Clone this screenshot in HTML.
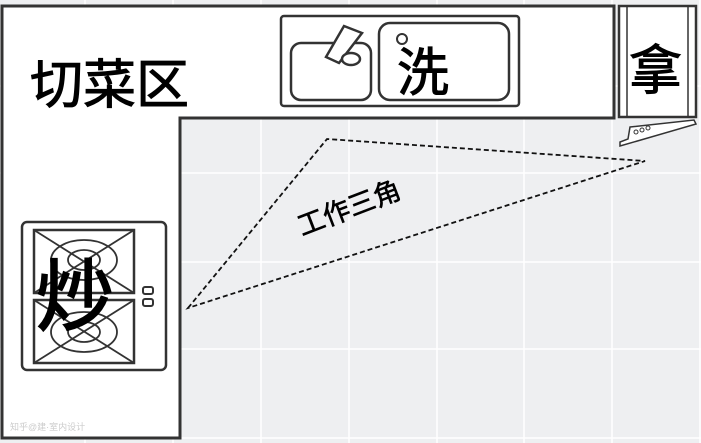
<!DOCTYPE html>
<html><head><meta charset="utf-8"><style>
html,body{margin:0;padding:0;width:701px;height:443px;overflow:hidden;background:#eeeff1}
svg{display:block}
text{font-family:"Liberation Sans","Noto Sans CJK SC",sans-serif}
</style></head><body>
<svg width="701" height="443" viewBox="0 0 701 443" xmlns="http://www.w3.org/2000/svg">
<rect width="701" height="443" fill="#eeeff1"/>
<g stroke="#fff" stroke-width="1.5">
<line x1="85" y1="0" x2="85" y2="443"/><line x1="173" y1="0" x2="173" y2="443"/>
<line x1="261" y1="0" x2="261" y2="443"/><line x1="349" y1="0" x2="349" y2="443"/>
<line x1="437" y1="0" x2="437" y2="443"/><line x1="524" y1="0" x2="524" y2="443"/>
<line x1="612" y1="0" x2="612" y2="443"/><line x1="700" y1="0" x2="700" y2="443"/>
<line x1="0" y1="86" x2="701" y2="86"/><line x1="0" y1="173" x2="701" y2="173"/>
<line x1="0" y1="262" x2="701" y2="262"/><line x1="0" y1="349" x2="701" y2="349"/>
<line x1="0" y1="438" x2="701" y2="438"/>
</g>
<path d="M2,6 H614 V118 H180 V438 H2 Z" fill="#fff" stroke="#333" stroke-width="3"/>
<text x="30" y="103" font-size="53" fill="#000" stroke="#000" stroke-width="1">切菜区</text>
<!-- sink -->
<rect x="281" y="16" width="238" height="90" rx="3" fill="#fff" stroke="#333" stroke-width="2.5"/>
<rect x="291" y="43" width="80" height="57" rx="10" fill="#fff" stroke="#333" stroke-width="2.5"/>
<polygon points="326,57 344,26 362,33 339,63" fill="#fff" stroke="#333" stroke-width="2.5"/>
<ellipse cx="351" cy="59" rx="9" ry="6" fill="#fff" stroke="#333" stroke-width="2.5"/>
<rect x="379" y="23" width="130" height="77" rx="11" fill="#fff" stroke="#333" stroke-width="2.5"/>
<circle cx="402" cy="39" r="5" fill="#fff" stroke="#333" stroke-width="2"/>
<text x="397" y="91" font-size="52" fill="#000" stroke="#000" stroke-width="1">洗</text>
<!-- fridge -->
<rect x="619" y="6" width="77" height="111" fill="#fff" stroke="#333" stroke-width="2.5"/>
<line x1="627" y1="6" x2="627" y2="117" stroke="#333" stroke-width="1.5"/>
<line x1="688" y1="6" x2="688" y2="117" stroke="#333" stroke-width="1.5"/>
<text x="629" y="89" font-size="53" fill="#000" stroke="#000" stroke-width="1">拿</text>
<polygon points="630,127 694,120 696,124 620,146 620,142 628,139" fill="#fff" stroke="#333" stroke-width="1.5"/>
<circle cx="636" cy="132" r="2" fill="none" stroke="#333"/><circle cx="642" cy="130" r="2" fill="none" stroke="#333"/><circle cx="648" cy="128" r="2" fill="none" stroke="#333"/>
<!-- stove -->
<rect x="22" y="222" width="144" height="148" rx="5" fill="#fff" stroke="#333" stroke-width="2.5"/>
<rect x="34" y="230" width="100" height="63" fill="none" stroke="#333" stroke-width="2.5"/>
<rect x="34" y="300" width="100" height="63" fill="none" stroke="#333" stroke-width="2.5"/>
<g stroke="#333" stroke-width="1.8" fill="none">
<line x1="34" y1="230" x2="134" y2="293"/><line x1="134" y1="230" x2="34" y2="293"/>
<line x1="34" y1="300" x2="134" y2="363"/><line x1="134" y1="300" x2="34" y2="363"/>
<ellipse cx="84" cy="260" rx="33" ry="20"/><ellipse cx="84" cy="260" rx="16" ry="10"/>
<ellipse cx="84" cy="332" rx="33" ry="20"/><ellipse cx="84" cy="332" rx="16" ry="10"/>
</g>
<rect x="143" y="287" width="10" height="7" rx="2" fill="#fff" stroke="#333" stroke-width="2"/>
<rect x="143" y="299" width="10" height="7" rx="2" fill="#fff" stroke="#333" stroke-width="2"/>
<text x="36" y="324" font-size="78" fill="#000" stroke="#000" stroke-width="2">炒</text>
<text x="10" y="430" font-size="9" fill="#ccc">知乎@建·室内设计</text>
<!-- triangle -->
<polygon points="188,308 327,139 645,161" fill="none" stroke="#111" stroke-width="1.8" stroke-dasharray="5,3"/>
<text x="0" y="0" font-size="27" fill="#000" stroke="#000" stroke-width="0.6" transform="translate(302,236) rotate(-21)">工作三角</text>
</svg>
</body></html>
